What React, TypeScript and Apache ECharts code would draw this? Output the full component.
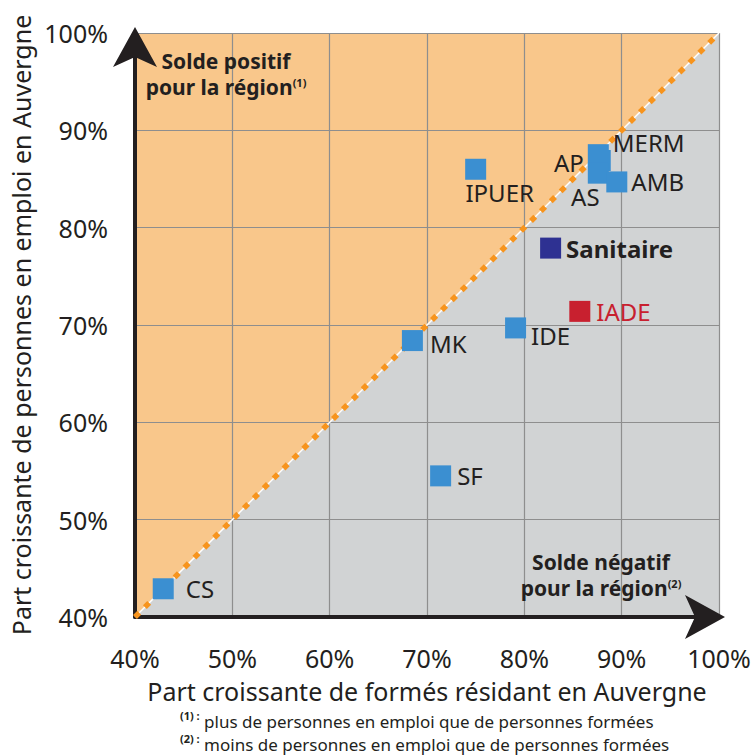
import React, { useEffect, useRef } from "react";
import * as echarts from "echarts";

// Data (percentages)
const professions = ["CS", "MK", "SF", "IPUER", "IDE", "Sanitaire", "IADE", "MERM", "AP", "AS", "AMB"];
const trainedResidentShare = [42.9, 68.5, 71.4, 75.0, 79.1, 82.7, 85.7, 87.6, 87.8, 87.6, 89.5];
const employedResidentShare = [42.9, 68.4, 54.5, 86.0, 69.7, 77.9, 71.4, 87.5, 86.9, 85.6, 84.7];
const pointKinds = ["metier", "metier", "metier", "metier", "metier", "total", "iade", "metier", "metier", "metier", "metier"];

const axisMin = 40;
const axisMax = 100;
const axisStep = 10;
const diagonal = [
  [axisMin, axisMin],
  [axisMax, axisMax],
];

const xAxisTitle = "Part croissante de formés résidant en Auvergne";
const yAxisTitle = "Part croissante de personnes en emploi en Auvergne";
const footnote1 = "plus de personnes en emploi que de personnes formées";
const footnote2 = "moins de personnes en emploi que de personnes formées";

const FONT = "'Noto Sans', 'Open Sans', sans-serif";
const INK = "#231f20";
const BLUE = "#3b8fd1";
const NAVY = "#2e3192";
const RED = "#c8202f";
const ORANGE_BG = "#f9c78b";
const GREY_BG = "#d1d3d4";

const labelLayouts: Record<string, any> = {
  CS: { position: "right", distance: 12 },
  MK: { position: "right", distance: 7, offset: [0, 3] },
  SF: { position: "right", distance: 6 },
  IPUER: { position: "bottom", distance: 1, offset: [24, 0] },
  IDE: { position: "right", distance: 5, offset: [0, 8] },
  Sanitaire: { position: "right", distance: 5, fontWeight: "bold" },
  IADE: { position: "right", distance: 6, color: RED },
  MERM: { position: "right", distance: 4, offset: [0, -12] },
  AP: { position: "left", distance: 6, offset: [0, 2] },
  AS: { position: "bottom", distance: 1, offset: [-13, 0] },
  AMB: { position: "right", distance: 4 },
};

function colorFor(kind: string) {
  if (kind === "total") return NAVY;
  if (kind === "iade") return RED;
  return BLUE;
}

const supStyle = (lh: number) => ({
  fontSize: 11,
  fontWeight: "bold",
  fontFamily: FONT,
  fill: INK,
  verticalAlign: "top",
  lineHeight: lh,
});

function boldLine(text: string, x: number, y: number) {
  return {
    type: "text",
    x,
    y,
    z: 10,
    style: {
      text,
      align: "center",
      verticalAlign: "middle",
      fontSize: 21,
      fontWeight: "bold",
      fontFamily: FONT,
      lineHeight: 21,
      fill: INK,
      rich: { s: supStyle(21) },
    },
  };
}

function footLine(mark: string, text: string, y: number) {
  return {
    type: "text",
    x: 180,
    y,
    z: 10,
    style: {
      text: "{s|" + mark + "} " + text,
      fontSize: 17,
      fontFamily: FONT,
      fill: INK,
      lineHeight: 22,
      rich: { s: supStyle(22) },
    },
  };
}

export default function App() {
  const ref = useRef<HTMLDivElement>(null);

  useEffect(() => {
    if (!ref.current) return;
    const chart = echarts.init(ref.current, undefined, { renderer: "svg" });

    const scatterData = professions.map((name, i) => ({
      name,
      value: [trainedResidentShare[i], employedResidentShare[i]],
      itemStyle: { color: colorFor(pointKinds[i]), opacity: 1 },
      label: {
        show: true,
        formatter: name,
        fontSize: 24,
        fontFamily: FONT,
        color: INK,
        ...labelLayouts[name],
      },
    }));

    const axisCommon = {
      type: "value",
      min: axisMin,
      max: axisMax,
      interval: axisStep,
      z: 1,
      axisLine: {
        show: true,
        onZero: false,
        lineStyle: { color: INK, width: 4 },
        symbol: ["none", "arrow"],
        symbolSize: [33, 40],
        symbolOffset: [0, 6],
      },
      axisTick: { show: false },
      splitLine: { show: true, lineStyle: { color: "#8e8e8e", width: 1.2 } },
      nameLocation: "middle",
      nameTextStyle: { fontSize: 25, fontFamily: FONT, color: INK },
    };

    const option: any = {
      animation: false,
      grid: {
        left: 135,
        right: 35,
        top: 33,
        bottom: 138,
        show: true,
        backgroundColor: GREY_BG,
        borderWidth: 0,
        z: -1,
      },
      xAxis: {
        ...axisCommon,
        axisLabel: {
          formatter: (v: number) => v + "%",
          fontSize: 25,
          fontFamily: FONT,
          color: INK,
          margin: 28,
          lineHeight: 26,
        },
        name: xAxisTitle,
        nameGap: 61,
      },
      yAxis: {
        ...axisCommon,
        axisLabel: {
          formatter: (v: number) => v + "%",
          fontSize: 25,
          fontFamily: FONT,
          color: INK,
          margin: 27,
        },
        name: yAxisTitle,
        nameGap: 100,
      },
      series: [
        {
          type: "line",
          data: diagonal,
          showSymbol: false,
          silent: true,
          z: 0,
          lineStyle: { width: 0, opacity: 0 },
          areaStyle: { color: ORANGE_BG, opacity: 1, origin: "end" },
        },
        {
          type: "line",
          data: diagonal,
          showSymbol: false,
          silent: true,
          z: 3,
          lineStyle: { width: 1.5, color: "#ffffff" },
        },
        {
          type: "line",
          data: diagonal,
          showSymbol: false,
          silent: true,
          z: 4,
          lineStyle: { width: 5.5, color: "#f7941d", type: [6, 8] },
        },
        {
          type: "scatter",
          symbol: "rect",
          symbolSize: 21,
          z: 5,
          itemStyle: { opacity: 1 },
          data: scatterData,
        },
      ],
      graphic: [
        boldLine("Solde positif", 226, 61),
        boldLine("pour la région{s|(1)}", 226, 87),
        boldLine("Solde négatif", 601, 562),
        boldLine("pour la région{s|(2)}", 601, 588),
        footLine("(1) :", footnote1, 710),
        footLine("(2) :", footnote2, 733),
      ],
    };

    chart.setOption(option);
    return () => chart.dispose();
  }, []);

  return <div ref={ref} style={{ width: 754, height: 755, position: "absolute", left: 0, top: 0 }} />;
}
